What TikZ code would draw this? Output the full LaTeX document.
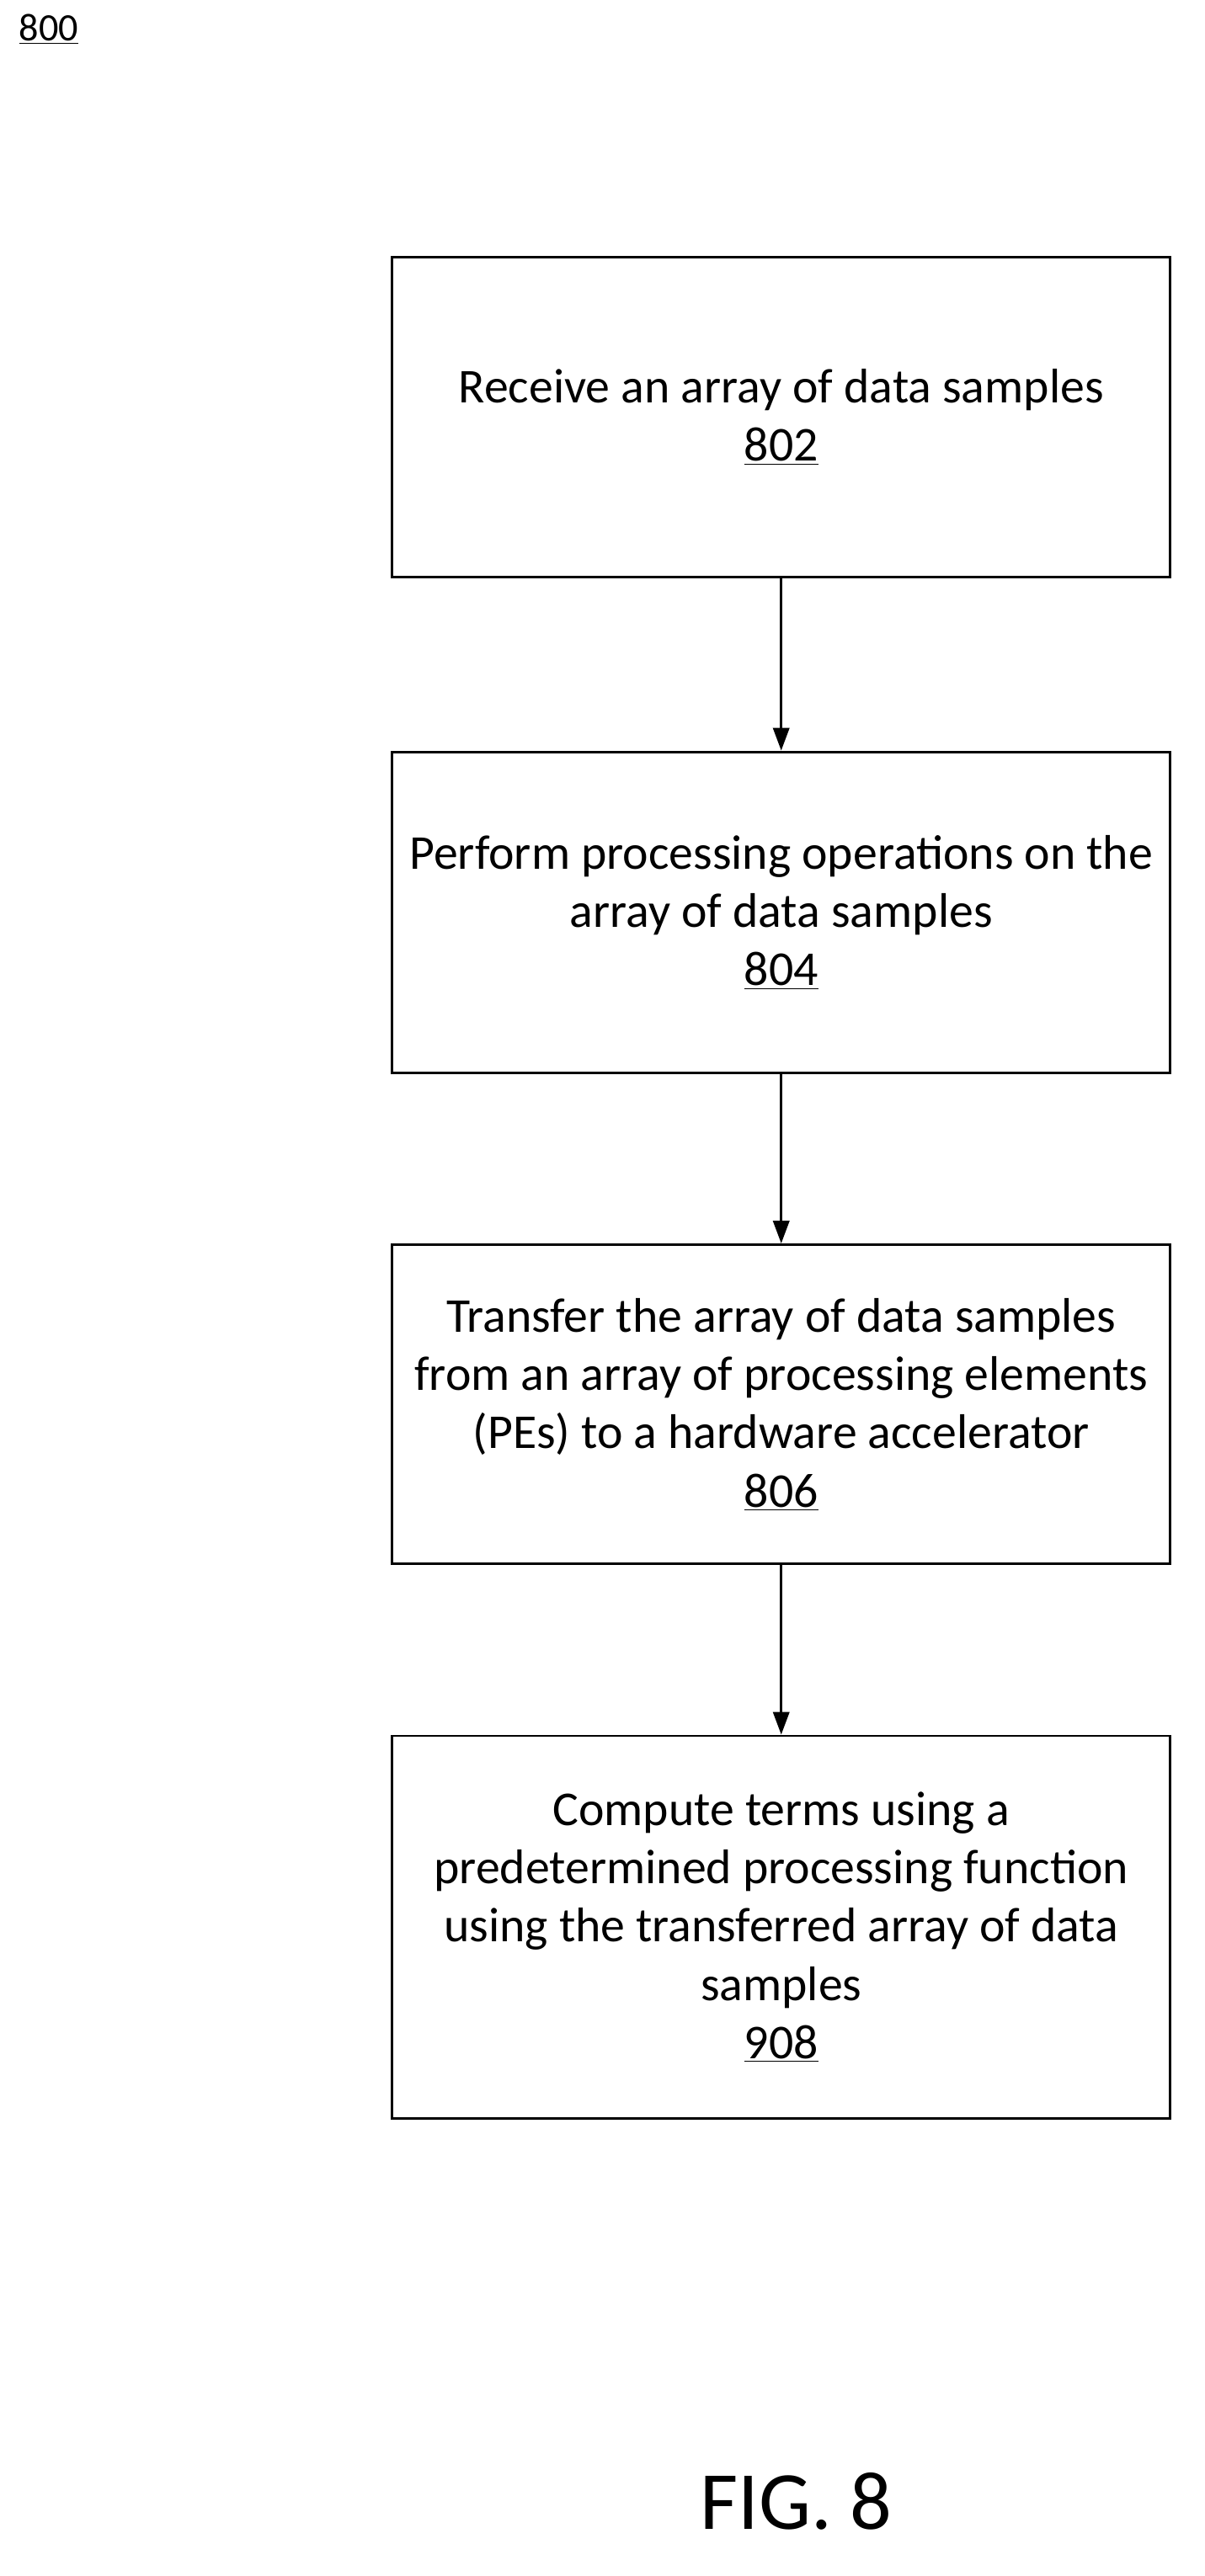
\documentclass[tikz,border=0pt]{standalone}
\usepackage{fontspec}
\setmainfont{Carlito}
\usetikzlibrary{arrows.meta}
\begin{document}
\begin{tikzpicture}[x=1pt,y=-1pt,
 box/.style={draw,line width=1.5pt,minimum width=480pt,anchor=north west,align=center,font=\fontsize{30}{36}\selectfont,inner sep=0pt},
 arr/.style={-{Triangle[length=14pt,width=10pt]},line width=1.5pt}]
\useasboundingbox (0,0) rectangle (743,1589);
\node[box,minimum height=197pt] (b1) at (241,158) {Receive an array of data samples\\\underline{802}};
\node[box,minimum height=198pt] (b2) at (241,463) {Perform processing operations on the\\array of data samples\\\underline{804}};
\node[box,minimum height=197pt] (b3) at (241,767) {Transfer the array of data samples\\from an array of processing elements\\(PEs) to a hardware accelerator\\\underline{806}};
\node[box,minimum height=236pt] (b4) at (241,1070) {Compute terms using a\\predetermined processing function\\using the transferred array of data\\samples\\\underline{908}};
\draw[arr] (b1) -- (b2);
\draw[arr] (b2) -- (b3);
\draw[arr] (b3) -- (b4);
\node[font=\fontsize{24}{26}\selectfont] (l) at (30,18) {\underline{800}};
\node[font=\fontsize{51}{56}\selectfont] (f) at (491,1543) {FIG. 8};
\end{tikzpicture}
\end{document}
